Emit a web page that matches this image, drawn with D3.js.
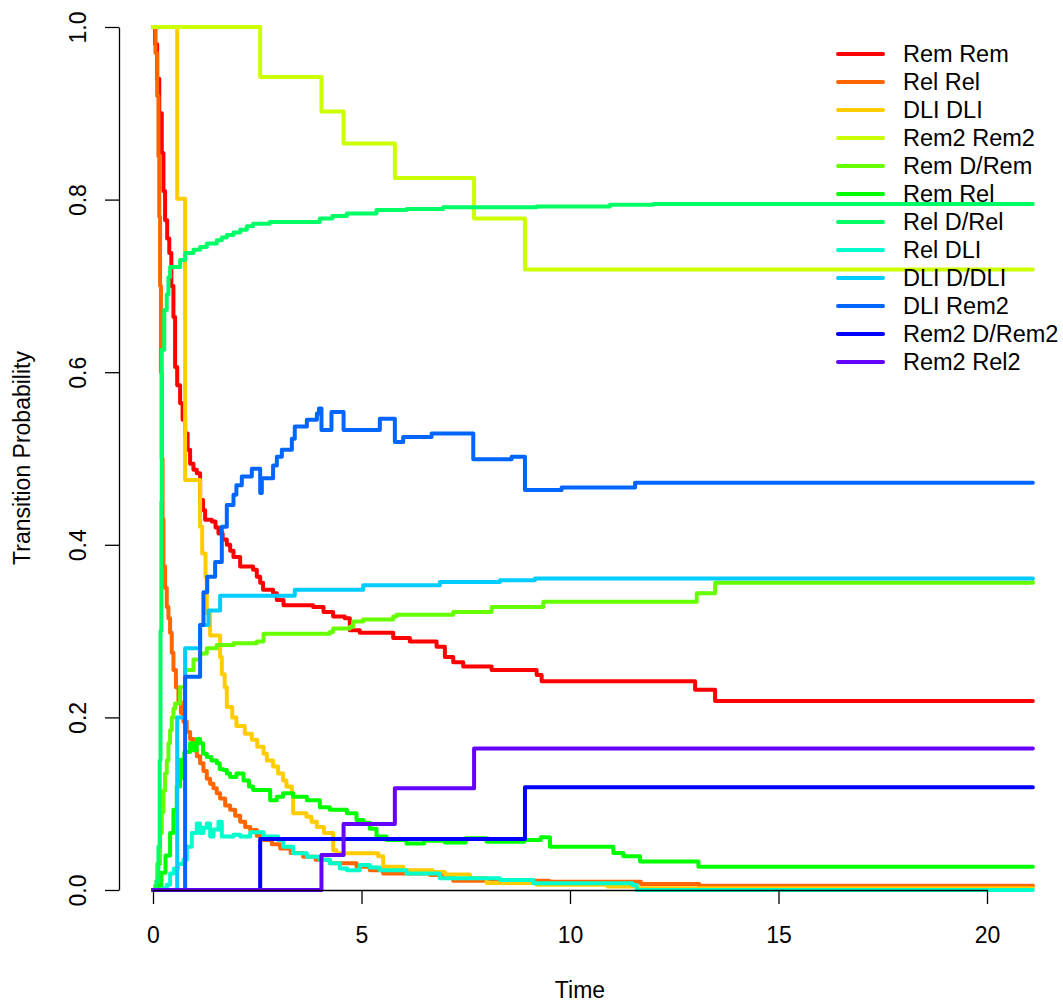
<!DOCTYPE html>
<html lang="en">
<head>
<meta charset="UTF-8">
<title>Transition Probability</title>
<script src="https://cdn.jsdelivr.net/npm/d3@7"></script>
<style>
  body { margin: 0; background: #fff; }
  svg { font-family: "Liberation Sans", Arial, Helvetica, sans-serif; }
</style>
</head>
<body>
<script>

    // step curves, [time, probability]
    var remRem = [[0,1],[0.05,0.98],[0.1,0.94],[0.15,0.9],[0.21,0.854],[0.25,0.81],[0.29,0.776],[0.34,0.755],[0.39,0.738],[0.44,0.70],[0.49,0.664],[0.53,0.606],[0.58,0.585],[0.65,0.564],[0.71,0.545],[0.77,0.529],[0.83,0.51],[0.89,0.494],[0.97,0.487],[1.05,0.483],[1.13,0.452],[1.2,0.44],[1.25,0.429],[1.41,0.427],[1.5,0.42],[1.57,0.413],[1.67,0.406],[1.77,0.4],[1.85,0.393],[1.93,0.386],[2.09,0.375],[2.4,0.371],[2.49,0.363],[2.57,0.356],[2.64,0.348],[2.88,0.344],[2.97,0.336],[3.13,0.33],[3.84,0.328],[4.09,0.322],[4.32,0.317],[4.6,0.315],[4.72,0.301],[4.96,0.298],[5.76,0.292],[6.16,0.288],[6.8,0.282],[7.0,0.27],[7.2,0.264],[7.44,0.259],[8.12,0.255],[9.2,0.249],[9.32,0.242],[13.0,0.232],[13.48,0.219],[21.1,0.219]];
    var relRel = [[0,1],[0.06,0.97],[0.1,0.92],[0.13,0.85],[0.15,0.78],[0.17,0.7],[0.19,0.6],[0.21,0.5],[0.23,0.43],[0.25,0.375],[0.29,0.35],[0.33,0.328],[0.37,0.315],[0.41,0.298],[0.45,0.275],[0.49,0.255],[0.55,0.235],[0.61,0.218],[0.67,0.205],[0.73,0.195],[0.81,0.183],[0.89,0.175],[0.97,0.162],[1.05,0.155],[1.13,0.147],[1.21,0.138],[1.29,0.129],[1.37,0.123],[1.45,0.118],[1.53,0.112],[1.61,0.106],[1.73,0.098],[1.85,0.093],[1.97,0.086],[2.09,0.079],[2.21,0.073],[2.33,0.0695],[2.49,0.063],[2.65,0.058],[2.85,0.053],[3.05,0.048],[3.3,0.043],[3.6,0.0386],[3.9,0.035],[4.24,0.031],[4.88,0.027],[5.2,0.023],[5.52,0.019],[6.64,0.0174],[7.2,0.0108],[9.5,0.0097],[11.7,0.007],[13.1,0.005],[21.1,0.005]];
    var dliDli = [[0,1],[0.58,0.801],[0.77,0.475],[1.13,0.421],[1.18,0.39],[1.26,0.363],[1.29,0.321],[1.37,0.295],[1.61,0.27],[1.65,0.25],[1.72,0.235],[1.77,0.212],[1.9,0.2],[2.0,0.19],[2.2,0.181],[2.37,0.174],[2.5,0.166],[2.65,0.158],[2.73,0.15],[2.88,0.143],[3.0,0.135],[3.12,0.127],[3.2,0.12],[3.33,0.112],[3.36,0.089],[3.68,0.085],[3.8,0.079],[3.93,0.073],[4.1,0.066],[4.32,0.046],[4.4,0.0425],[5.4,0.039],[5.52,0.027],[6.0,0.023],[6.7,0.021],[7.0,0.018],[7.6,0.014],[8.0,0.008],[9.2,0.006],[10.9,0.004],[11.6,0.002],[21.1,0.002]];
    var rem2Rem2 = [[0,1],[2.57,0.942],[4.04,0.902],[4.57,0.865],[5.8,0.825],[7.7,0.778],[8.92,0.719],[21.1,0.719]];
    var remDRem = [[0,0],[0.05,0.005],[0.1,0.03],[0.17,0.066],[0.21,0.09],[0.25,0.115],[0.29,0.135],[0.33,0.15],[0.37,0.17],[0.41,0.185],[0.45,0.2],[0.49,0.21],[0.53,0.216],[0.65,0.235],[0.77,0.255],[0.97,0.267],[1.13,0.274],[1.29,0.28],[1.53,0.284],[1.93,0.286],[2.49,0.288],[2.65,0.297],[4.24,0.299],[4.32,0.303],[4.72,0.305],[4.8,0.311],[5.04,0.3135],[5.76,0.317],[5.84,0.319],[7.2,0.322],[8.12,0.328],[9.36,0.334],[13.04,0.344],[13.48,0.356],[21.1,0.357]];
    var remRel = [[0,0],[0.1,0.005],[0.2,0.02],[0.3,0.04],[0.41,0.066],[0.49,0.093],[0.57,0.12],[0.65,0.151],[0.7,0.13],[0.75,0.16],[0.89,0.17],[0.97,0.162],[1.05,0.175],[1.13,0.17],[1.2,0.158],[1.29,0.154],[1.4,0.15],[1.53,0.147],[1.6,0.14],[1.69,0.139],[1.77,0.135],[1.85,0.131],[2.0,0.135],[2.17,0.127],[2.3,0.12],[2.4,0.116],[2.65,0.116],[2.81,0.104],[2.97,0.108],[3.12,0.112],[3.36,0.108],[3.69,0.104],[4.0,0.096],[4.24,0.093],[4.65,0.089],[4.88,0.081],[5.05,0.078],[5.2,0.071],[5.36,0.062],[5.6,0.058],[6.08,0.054],[6.5,0.057],[7.0,0.055],[7.5,0.06],[8.0,0.056],[8.9,0.058],[9.3,0.061],[9.52,0.05],[10.96,0.05],[11.04,0.043],[11.28,0.039],[11.68,0.033],[13.08,0.027],[21.1,0.027]];
    var relDRel = [[0,0],[0.08,0.01],[0.13,0.05],[0.16,0.15],[0.18,0.3],[0.2,0.45],[0.21,0.626],[0.27,0.672],[0.33,0.69],[0.37,0.71],[0.41,0.722],[0.65,0.73],[0.77,0.738],[0.97,0.742],[1.13,0.745],[1.29,0.749],[1.53,0.753],[1.65,0.756],[1.77,0.759],[1.93,0.762],[2.09,0.765],[2.25,0.769],[2.4,0.772],[2.8,0.774],[4.0,0.778],[4.3,0.781],[4.65,0.784],[5.36,0.788],[6.08,0.789],[6.96,0.791],[9.2,0.792],[10.96,0.794],[12.0,0.795],[21.1,0.795]];
    var relDli = [[0,0],[0.25,0.002],[0.33,0.006],[0.41,0.019],[0.5,0.025],[0.6,0.03],[0.73,0.035],[0.81,0.05],[0.93,0.066],[1.05,0.077],[1.13,0.066],[1.21,0.072],[1.29,0.077],[1.37,0.062],[1.45,0.07],[1.57,0.079],[1.65,0.062],[1.93,0.064],[2.09,0.062],[2.33,0.067],[2.65,0.062],[3.0,0.058],[3.12,0.05],[3.36,0.0425],[3.69,0.0386],[4.0,0.035],[4.24,0.031],[4.48,0.025],[4.65,0.023],[4.96,0.029],[5.2,0.026],[5.44,0.023],[6.08,0.019],[6.88,0.0135],[8.32,0.0116],[9.12,0.0077],[11.5,0.0058],[11.6,0],[21.1,0]];
    var dliDDli = [[0,0],[0.58,0.2],[0.77,0.28],[1.13,0.307],[1.33,0.324],[1.61,0.341],[3.4,0.348],[5.04,0.353],[6.88,0.357],[8.32,0.359],[9.16,0.361],[21.1,0.361]];
    var dliRem2 = [[0,0],[0.77,0.247],[1.13,0.307],[1.21,0.345],[1.3,0.363],[1.49,0.38],[1.65,0.421],[1.77,0.446],[1.93,0.458],[2.0,0.469],[2.13,0.479],[2.37,0.488],[2.57,0.46],[2.61,0.477],[2.88,0.492],[2.97,0.502],[3.09,0.51],[3.33,0.523],[3.4,0.537],[3.69,0.545],[3.93,0.552],[3.98,0.558],[4.04,0.533],[4.28,0.554],[4.57,0.533],[5.44,0.546],[5.8,0.519],[6.0,0.525],[6.68,0.529],[7.68,0.499],[8.6,0.502],[8.92,0.4635],[9.8,0.4665],[11.56,0.472],[21.1,0.472]];
    var rem2DRem2 = [[0,0],[2.57,0.059],[8.92,0.119],[21.1,0.119]];
    var rem2Rel2 = [[0,0],[4.04,0.0405],[4.57,0.0765],[5.8,0.118],[7.7,0.164],[21.1,0.164]];

    var labels = ["Rem Rem", "Rel Rel", "DLI DLI", "Rem2 Rem2", "Rem D/Rem", "Rem Rel",
                  "Rel D/Rel", "Rel DLI", "DLI D/DLI", "DLI Rem2", "Rem2 D/Rem2", "Rem2 Rel2"];
    var xTicks = [0, 5, 10, 15, 20];
    var yTicks = [0, 0.2, 0.4, 0.6, 0.8, 1.0];

    var series = [remRem, relRel, dliDli, rem2Rem2, remDRem, remRel,
                  relDRel, relDli, dliDDli, dliRem2, rem2DRem2, rem2Rel2];
    // rainbow(15)[1:12]
    var colors = ["#FF0000", "#FF6600", "#FFCC00", "#CCFF00", "#66FF00", "#00FF00",
                  "#00FF66", "#00FFCC", "#00CCFF", "#0066FF", "#0000FF", "#6600FF"];

    var svg = d3.select("body").append("svg").attr("width", 1063).attr("height", 1005);

    var x = d3.scaleLinear().domain([0, 20]).range([153, 987]);
    var y = d3.scaleLinear().domain([0, 1]).range([890, 27]);

    var line = d3.line()
        .x(function (d) { return x(d[0]); })
        .y(function (d) { return y(d[1]); })
        .curve(d3.curveStepAfter);

    //Lines
    svg.append("g").selectAll("path").data(series).enter().append("path")
        .attr("d", line)
        .attr("fill", "none")
        .attr("stroke", function (d, i) { return colors[i]; })
        .attr("stroke-width", 4)
        .attr("stroke-linejoin", "round")
        .attr("stroke-linecap", "round");

    //Axes
    var xAxis = d3.axisBottom(x).tickValues(xTicks).tickSize(14).tickSizeOuter(0);
    var gx = svg.append("g").attr("transform", "translate(0,890)").call(xAxis);
    gx.selectAll("text").attr("y", 53).attr("dy", null);

    var yAxis = d3.axisLeft(y).tickValues(yTicks).tickSize(14).tickSizeOuter(0).tickFormat(d3.format(".1f"));
    var gy = svg.append("g").attr("transform", "translate(119,0)").call(yAxis);
    gy.selectAll("text").attr("transform", "rotate(-90)")
        .attr("x", 0).attr("y", -33).attr("dy", null)
        .attr("text-anchor", "middle");

    svg.selectAll(".domain, .tick line").attr("stroke", "#000").attr("stroke-width", 1.3);
    svg.selectAll(".tick text").attr("fill", "#000").attr("font-size", 23)
        .attr("font-family", "Liberation Sans, Arial, sans-serif");

    svg.append("text").attr("x", 580).attr("y", 998).attr("text-anchor", "middle")
        .attr("font-size", 23).text("Time");
    svg.append("text").attr("transform", "translate(30,458) rotate(-90)").attr("text-anchor", "middle")
        .attr("font-size", 23).text("Transition Probability");

    //Legend
    var legend = svg.append("g").selectAll("g").data(labels).enter().append("g")
        .attr("transform", function (d, i) { return "translate(838," + (54 + i * 28) + ")"; });
    legend.append("line").attr("x1", 0).attr("x2", 45).attr("y1", 0).attr("y2", 0)
        .attr("stroke", function (d, i) { return colors[i]; })
        .attr("stroke-width", 4).attr("stroke-linecap", "round");
    legend.append("text").attr("x", 65).attr("y", 8).attr("font-size", 23.5)
        .text(function (d) { return d; });

</script>
</body>
</html>
